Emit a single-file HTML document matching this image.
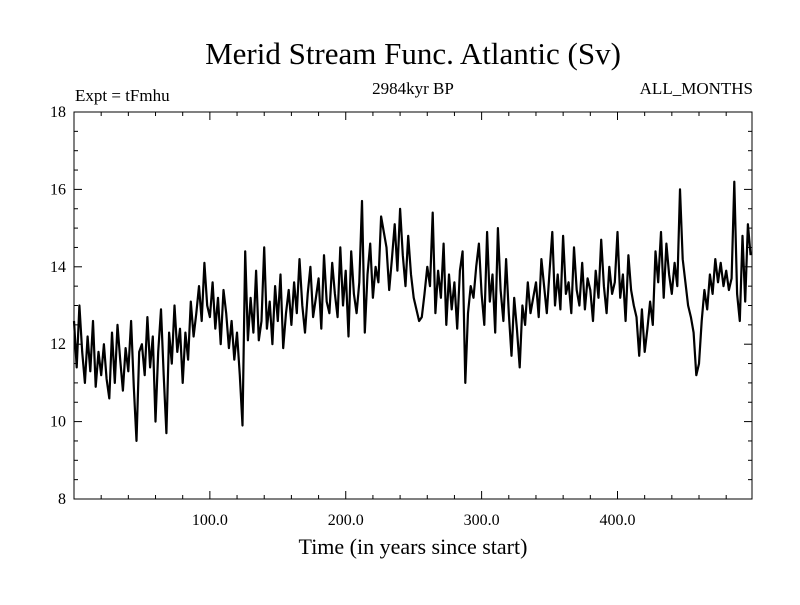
<!DOCTYPE html>
<html><head><meta charset="utf-8"><style>
body{margin:0;background:#fff}
svg text{font-family:"Liberation Serif",serif;fill:#000}
</style></head><body>
<svg id="chart" width="800" height="600">
<text x="413" y="64" font-size="31" text-anchor="middle">Merid Stream Func. Atlantic (Sv)</text>
<text x="75" y="101" font-size="17">Expt = tFmhu</text>
<text x="413" y="94" font-size="17" text-anchor="middle">2984kyr BP</text>
<text x="753" y="94" font-size="17" text-anchor="end">ALL_MONTHS</text>
<text x="413" y="554" font-size="22" text-anchor="middle">Time (in years since start)</text>
<rect x="74" y="112" width="678" height="387" fill="none" stroke="#000" stroke-width="1"/>
<g id="axes"></g>
<polyline id="series" fill="none" stroke="#000" stroke-width="2.2" stroke-linejoin="round"/>
</svg>
<script>
const yearStep = 2;
const values = [
12.6,11.4,13.0,11.8,11.0,12.2,11.3,12.6,10.9,11.8,
11.2,12.0,11.1,10.6,12.3,11.0,12.5,11.6,10.8,11.9,
11.3,12.6,10.9,9.5,11.8,12.0,11.2,12.7,11.4,12.2,
10.0,11.8,12.9,11.2,9.7,12.3,11.5,13.0,11.8,12.4,
11.0,12.3,11.6,13.1,12.2,12.8,13.5,12.6,14.1,13.0,
12.7,13.6,12.4,13.2,12.0,13.4,12.8,11.9,12.6,11.6,
12.3,11.2,9.9,14.4,12.1,13.2,12.3,13.9,12.1,12.6,
14.5,12.4,13.1,12.0,13.5,12.6,13.8,11.9,12.8,13.4,
12.5,13.6,12.8,14.2,13.0,12.3,13.3,14.0,12.7,13.2,
13.7,12.4,14.3,13.1,12.8,14.1,13.3,12.7,14.5,13.0,
13.9,12.2,14.4,13.3,12.8,13.6,15.7,12.3,13.8,14.6,
13.2,14.0,13.6,15.3,14.9,14.5,13.4,14.2,15.1,13.9,
15.5,14.3,13.5,14.8,13.8,13.2,12.9,12.6,12.7,13.3,
14.0,13.5,15.4,12.8,13.9,13.2,14.6,12.5,13.8,12.9,
13.6,12.4,13.9,14.4,11.0,12.8,13.5,13.2,14.0,14.6,
13.3,12.5,14.9,13.1,13.8,12.3,15.0,13.4,12.6,14.2,
12.8,11.7,13.2,12.4,11.4,13.0,12.5,13.6,12.8,13.2,
13.6,12.7,14.2,13.5,12.8,13.9,14.9,13.0,13.8,12.9,
14.8,13.3,13.6,12.8,14.5,13.4,13.0,14.1,12.9,13.7,
13.4,12.6,13.9,13.2,14.7,13.5,12.8,14.0,13.3,13.6,
14.9,13.2,13.8,12.6,14.3,13.4,13.0,12.7,11.7,12.9,
11.8,12.4,13.1,12.5,14.4,13.6,14.9,13.2,14.6,13.8,
13.3,14.1,13.5,16.0,14.2,13.6,13.0,12.7,12.3,11.2,
11.5,12.6,13.4,12.9,13.8,13.3,14.2,13.6,14.1,13.5,
13.9,13.4,13.7,16.2,13.3,12.6,14.8,13.1,15.1,14.3
];
const yTicks = [8,10,12,14,16,18];
const xTicks = [100,200,300,400];
const xTickLabels = ["100.0","200.0","300.0","400.0"];

const X0=74,X1=752,Y0=499,Y1=112, XMIN=0,XMAX=499, YMIN=8,YMAX=18;
const sx=v=>X0+(v-XMIN)/(XMAX-XMIN)*(X1-X0);
const sy=v=>Y0-(v-YMIN)/(YMAX-YMIN)*(Y0-Y1);
const NS="http://www.w3.org/2000/svg";
const g=document.getElementById('axes');
function line(x1,y1,x2,y2,name){const l=document.createElementNS(NS,'line');l.setAttribute('x1',x1);l.setAttribute('y1',y1);l.setAttribute('x2',x2);l.setAttribute('y2',y2);l.setAttribute('stroke','#000');


g.appendChild(l);}
function text(x,y,s,anchor,name){const t=document.createElementNS(NS,'text');t.setAttribute('x',x);t.setAttribute('y',y);t.setAttribute('font-size','16');t.setAttribute('text-anchor',anchor);t.textContent=s;


g.appendChild(t);}
for(let v=YMIN;v<=YMAX+1e-9;v+=0.5){const y=sy(v);const major=Math.abs(v-Math.round(v/2)*2)<1e-9;const L=major?8:4;line(X0,y,X0+L,y,'y-tick');line(X1,y,X1-L,y,'y-tick-right');}
yTicks.forEach(v=>text(X0-8,sy(v)+5,String(v),'end','y-tick-label'));
for(let v=20;v<XMAX;v+=20){const x=sx(v);const major=v%100===0;const L=major?8:4;line(x,Y0,x,Y0-L,'x-tick');line(x,Y1,x,Y1+L,'x-tick-top');}
xTicks.forEach((v,i)=>text(sx(v),Y0+26,xTickLabels[i],'middle','x-tick-label'));
document.getElementById('series').setAttribute('points',values.map((v,i)=>sx(i*yearStep).toFixed(1)+','+sy(v).toFixed(1)).join(' '));
</script>
</body></html>
